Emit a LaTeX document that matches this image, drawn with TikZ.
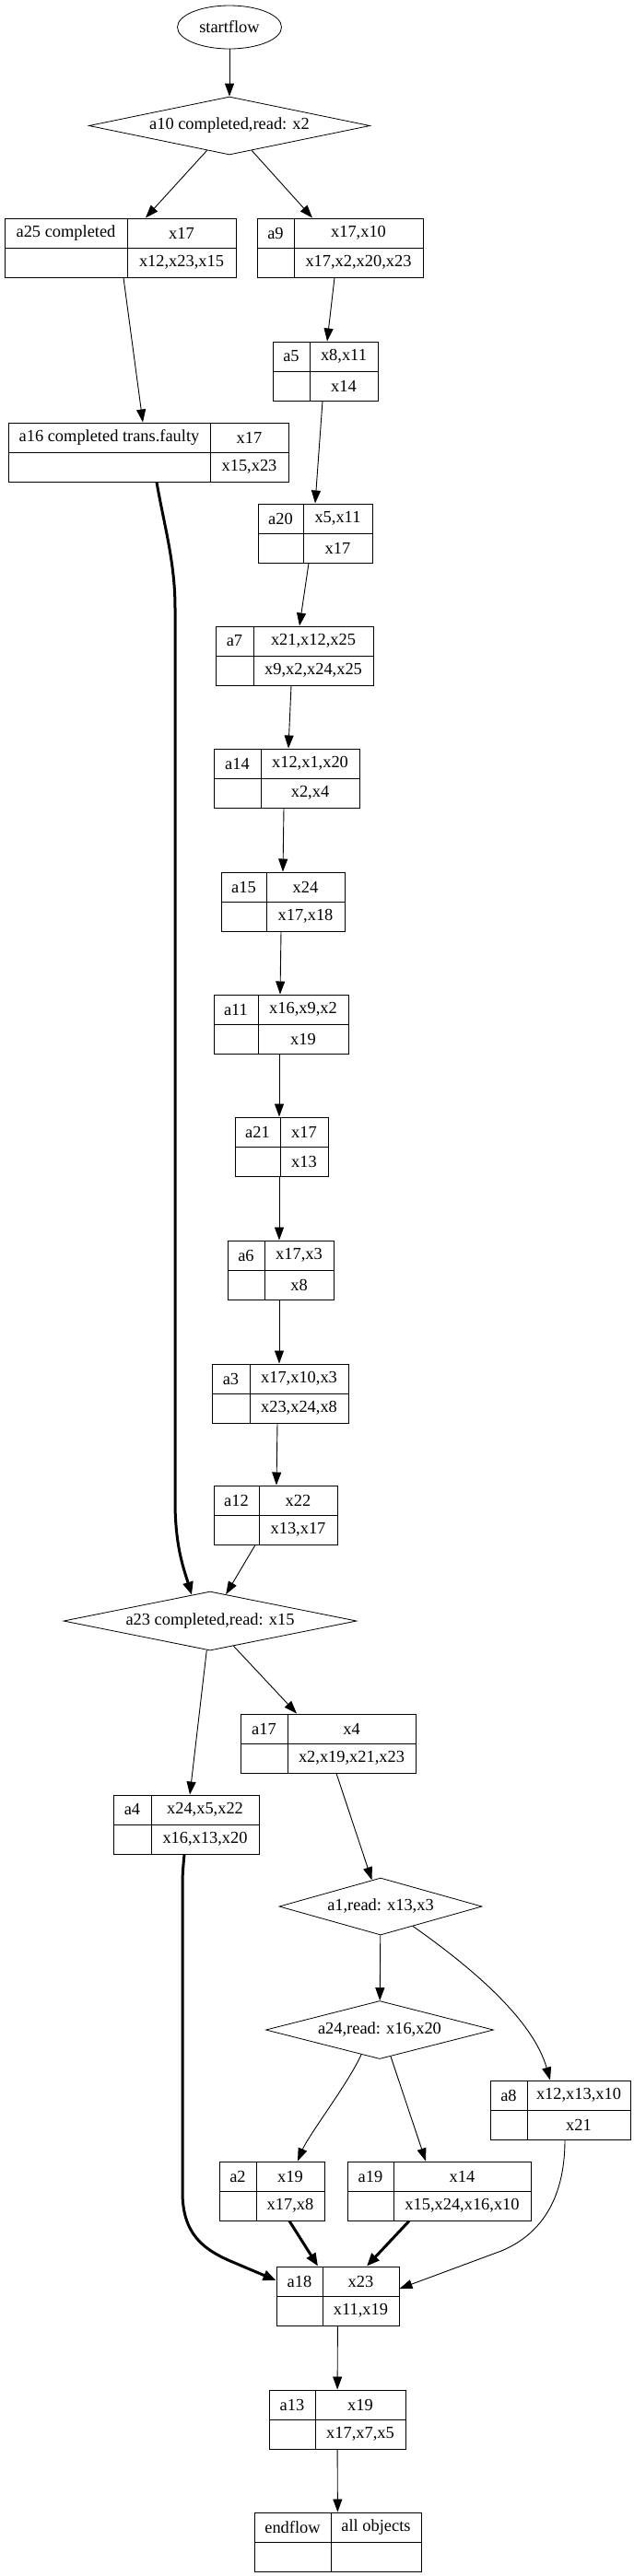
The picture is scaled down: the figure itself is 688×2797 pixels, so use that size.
\documentclass[tikz,border=0pt]{standalone}
\usepackage{fontspec}
\setmainfont{Liberation Serif}
\usetikzlibrary{shapes.geometric,arrows.meta,calc,fit}
\tikzset{
  recbox/.style={draw, line width=0.5pt, inner sep=0pt},
  recline/.style={line width=0.5pt},
  lbl/.style={inner sep=0pt, font=\fontsize{9.2}{11}\selectfont},
  dia/.style={draw, diamond, aspect=5, inner sep=0pt, line width=0.4pt, font=\fontsize{9.2}{11}\selectfont},
  conn/.style={line width=0.45pt, -{Triangle[length=7pt,width=5pt]}},
  thickconn/.style={line width=1.5pt, -{Triangle[length=7pt,width=5.5pt]}},
}
% name, xleft, xdivider, xright, ytop, top-left, top-right, bottom-right
\newcommand\rec[8]{%
  \coordinate (#1-nw) at (#2,#5);
  \coordinate (#1-se) at (#4,#5+64);
  \node[recbox, fit=(#1-nw)(#1-se)] (#1) {};
  \draw[recline] (#3,#5) -- (#3,#5+64);
  \draw[recline] (#2,#5+32) -- (#4,#5+32);
  \node[lbl] (#1-k) at ({(#2+#3)/2},#5+16) {#6};
  \node[lbl] (#1-r) at ({(#3+#4)/2},#5+16) {#7};
  \node[lbl] (#1-w) at ({(#3+#4)/2},#5+48) {#8};
}
\begin{document}
\begin{tikzpicture}[x=0.5pt,y=-0.5pt]
\useasboundingbox (0,0) rectangle (688,2797);

\node[draw, ellipse, minimum width=56.5pt, minimum height=23.5pt, inner sep=0pt, line width=0.4pt, font=\fontsize{9.2}{11}\selectfont] (startflow) at (249,29.5) {startflow};
\node[dia, minimum width=152.5pt, minimum height=31.5pt] (a10) at (249,136.5) {a10 completed,read: x2};

\rec{a25}{5}{138}{256}{237}{a25 completed}{x17}{x12,x23,x15}
\rec{a9}{279}{319}{459}{237}{a9}{x17,x10}{x17,x2,x20,x23}
\rec{a5}{296}{336}{410}{371}{a5}{x8,x11}{x14}
\rec{a16}{9}{228}{313}{459}{a16 completed trans.faulty}{x17}{x15,x23}
\rec{a20}{280}{329}{404}{547}{a20}{x5,x11}{x17}
\rec{a7}{234}{275}{405}{680}{a7}{x21,x12,x25}{x9,x2,x24,x25}
\rec{a14}{232}{283}{390}{813}{a14}{x12,x1,x20}{x2,x4}
\rec{a15}{240}{289}{374}{947}{a15}{x24}{x17,x18}
\rec{a11}{232}{280}{378}{1080}{a11}{x16,x9,x2}{x19}
\rec{a21}{255}{304}{356}{1213}{a21}{x17}{x13}
\rec{a6}{247}{287}{362}{1347}{a6}{x17,x3}{x8}
\rec{a3}{230}{271}{378}{1481}{a3}{x17,x10,x3}{x23,x24,x8}
\rec{a12}{232}{281}{366}{1613}{a12}{x22}{x13,x17}

\node[dia, minimum width=159pt, minimum height=32pt] (a23) at (228,1760) {a23 completed,read: x15};

\rec{a17}{261}{312}{451}{1861}{a17}{x4}{x2,x19,x21,x23}
\rec{a4}{123}{164}{281}{1949}{a4}{x24,x5,x22}{x16,x13,x20}

\node[dia, minimum width=110pt, minimum height=31pt] (a1) at (413,2070) {a1,read: x13,x3};
\node[dia, minimum width=123.5pt, minimum height=31.5pt] (a24) at (412,2204) {a24,read: x16,x20};

\rec{a8}{532}{572}{684}{2259}{a8}{x12,x13,x10}{x21}
\rec{a2}{238}{278}{352}{2347}{a2}{x19}{x17,x8}
\rec{a19}{377}{427}{576}{2347}{a19}{x14}{x15,x24,x16,x10}
\rec{a18}{300}{350}{433}{2461}{a18}{x23}{x11,x19}
\rec{a13}{292}{342}{440}{2595}{a13}{x19}{x17,x7,x5}
\rec{endflow}{276}{359}{457}{2728}{endflow}{all objects}{}

\draw[conn] (startflow) -- (a10);
\draw[conn] (a10) -- ($(a25.north)+(27.5,0)$);
\draw[conn] (a10) -- ($(a9.north)+(-30,0)$);
\draw[conn] ($(a25.south)+(3.5,0)$) -- ($(a16.north)+(-6,0)$);
\draw[conn] ($(a9.south)+(-6,0)$) -- ($(a5.north)+(2,0)$);
\draw[conn] ($(a5.south)+(-3,0)$) -- (a20.north);
\draw[conn] ($(a20.south)+(-7,0)$) -- ($(a7.north)+(5.5,0)$);
\draw[conn] ($(a7.south)+(-3.5,0)$) -- ($(a14.north)+(2,0)$);
\draw[conn] ($(a14.south)+(-3,0)$) -- (a15.north);
\draw[conn] ($(a15.south)+(-2,0)$) -- ($(a11.north)+(-1,0)$);
\draw[conn] ($(a11.south)+(-2,0)$) -- ($(a21.north)+(-2.5,0)$);
\draw[conn] ($(a21.south)+(-2.5,0)$) -- ($(a6.north)+(-1.5,0)$);
\draw[conn] ($(a6.south)+(-1.5,0)$) -- ($(a3.north)+(-1,0)$);
\draw[conn] ($(a3.south)+(-3,0)$) -- ($(a12.north)+(1,0)$);
\draw[conn] ($(a12.south)+(-22,0)$) -- (a23);
\draw[thickconn] ($(a16.south)+(9,0)$) .. controls (178,570) and (190,610) .. (190,660) -- (190,1630) .. controls (190,1680) and (200,1705) .. ($(a23.north)+(-20,4)$);
\draw[conn] (a23) -- ($(a4.north)+(4,0)$);
\draw[conn] (a23) -- ($(a17.north)+(-34,0)$);
\draw[conn] ($(a17.south)+(9,0)$) -- (a1);
\draw[conn] (a1) -- (a24);
\draw[conn] ($(a1.south)+(35,-10)$) .. controls (510,2135) and (578,2192) .. ($(a8.north)+(-11,0)$);
\draw[conn] ($(a24.south)+(-20,-5)$) .. controls (378,2262) and (335,2318) .. ($(a2.north)+(28,0)$);
\draw[conn] ($(a24.south)+(12,-3)$) -- ($(a19.north)+(-14.5,0)$);
\draw[thickconn] ($(a4.south)+(-2,0)$) .. controls (198,2035) .. (198,2060) -- (198,2380) .. controls (198,2425) and (220,2442) .. (250,2455) -- ($(a18.west)+(0,-17)$);
\draw[thickconn] ($(a2.south)+(19,0)$) -- ($(a18.north)+(-21.5,0)$);
\draw[thickconn] ($(a19.south)+(-32.5,0)$) -- ($(a18.north)+(31.5,0)$);
\draw[conn] ($(a8.south)+(5,0)$) .. controls (613,2390) and (585,2427) .. (544,2444) -- ($(a18.east)+(0,-8)$);
\draw[conn] (a18) -- (a13);
\draw[conn] (a13) -- (endflow);
\end{tikzpicture}
\end{document}
